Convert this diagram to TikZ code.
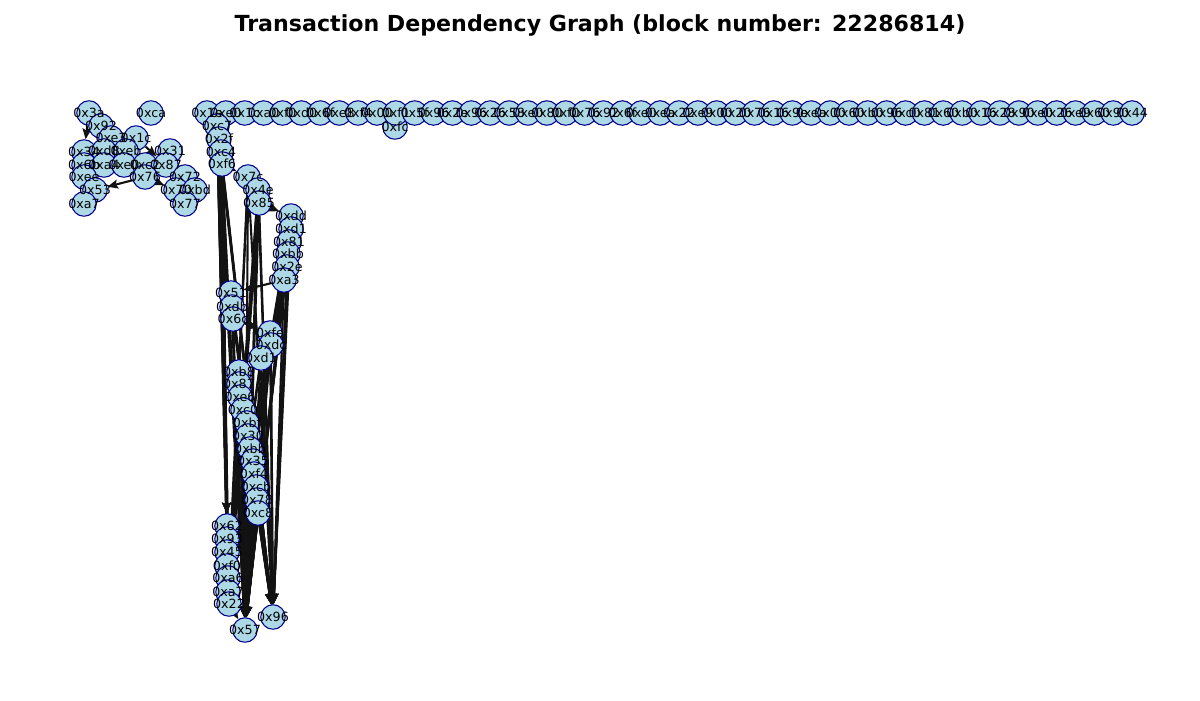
\documentclass[tikz,border=0pt]{standalone}
\usepackage{fontspec}
\setmainfont{DejaVu Sans}
\usetikzlibrary{calc, arrows.meta}

\definecolor{nodefill}{RGB}{173,216,230}
\definecolor{nodeedge}{RGB}{0,0,139}

\pgfdeclarelayer{bg}
\pgfdeclarelayer{fg}
\pgfsetlayers{bg,main,fg}

\tikzset{
	tx/.style = {circle, draw = nodeedge, fill = nodefill, line width = 0.6pt,
		minimum size = 0.49cm, inner sep = 0pt},
	txlabel/.style = {inner sep = 0pt, font = \fontsize{7.2}{7.2}\selectfont},
	dep/.style = {-{Stealth[length = 6pt, width = 5pt, inset = 1pt]}, line width = 1.2pt, black!93},
}

% circle first, its text on the top layer
\newcommand{\txnode}[4]{%
	\node [tx] (#1) at (#2, #3) {};
	\begin{pgfonlayer}{fg}
		\node [txlabel] at (#1) {#4};
	\end{pgfonlayer}%
}

\begin{document}
\begin{tikzpicture}[x = 0.02cm, y = -0.02cm]
		\useasboundingbox (0, 0) rectangle (1200, 700);
		
		\node (title) at (600, 25) {\fontsize{12.6}{13}\selectfont\bfseries Transaction Dependency Graph (block number: 22286814)};
		
		% left cluster
		\foreach \nm/\x/\y/\lb in {n3a/89/113/0x3a, nca/151/113/0xca, n92/101/126/0x92,
				ne3/111/138/0xe3, n1c/136/138/0x1c, n34/84/152/0x34, nd8/104/151/0xd8,
				neb/126/151/0xeb, n31/170/151/0x31, n6b/84/165/0x6b, na4/104/165/0xa4,
				ne0/124/165/0xe0, nc2/145/165/0xc2, n87/166/165/0x87, nee/84/177/0xee,
				n76/145/177/0x76, n72/185/177/0x72, n53/95/190/0x53, n70/176/190/0x70,
				nbd/195/190/0xbd, na7/84/204/0xa7, n77/185/204/0x77}
			{\txnode{\nm}{\x}{\y}{\lb}}
		
		% top row
		\txnode{mfc}{395}{127}{0xfc}
		\foreach \lb [count = \i] in {0x1e, 0xe0, 0x1c, 0xa0, 0xf0, 0xd0, 0x6f, 0xe8, 0xf4, 0x00,
				0xf1, 0x5f, 0x96, 0x2e, 0x96, 0x26, 0x58, 0xe0, 0x80, 0xf0,
				0x76, 0x92, 0x6f, 0xe0, 0xea, 0x22, 0xe9, 0x00, 0x20, 0x76,
				0x16, 0x9e, 0xea, 0x00, 0x60, 0xb0, 0x96, 0xc0, 0x81, 0x60,
				0xb0, 0x16, 0x28, 0x90, 0xe0, 0x26, 0xe9, 0x60, 0x90, 0x44}
			{\txnode{t\i}{{207 + (\i - 1)*18.88}}{113}{\lb}}
		
		% middle column
		\foreach \nm/\x/\y/\lb in {mc7/217/126/0xc7, m2f/219/139/0x2f, mc4/221/152/0xc4,
				mf6/222/164/0xf6, m7c/248/177/0x7c, m4e/258/190/0x4e, m85/259/203/0x85,
				mdd/291/216/0xdd, md1/291/229/0xd1, m81/289/242/0x81, mbb/288/254/0xbb,
				m2e/287/267/0x2e, ma3/284/280/0xa3, m51/231/293/0x51, mdb/232/307/0xdb,
				m6c/233/319/0x6c, mfe/270/333/0xfe, mdc/271/345/0xdc, mdl/261/358/0xd1,
				mb8/239/372/0xb8, m87/239/384/0x87, me6/240/397/0xe6, mc0/243/410/0xc0,
				mbf/247/423/0xbf, m30/248/436/0x30, mbc/250/449/0xbb, m35/253/461/0x35,
				mf4/254/474/0xf4, mcb/256/487/0xcb, m78/257/500/0x78, mc8/258/513/0xc8,
				m62/227/526/0x62, m93/227/539/0x93, m45/227/552/0x45, mf0/227/566/0xf0,
				ma6/228/578/0xa6, ma7/228/592/0xa7, m22/229/604/0x22,
				m96/273/617/0x96, m57/245/630/0x57}
			{\txnode{\nm}{\x}{\y}{\lb}}
		
		\begin{pgfonlayer}{bg}
			\draw [dep] (n3a) -- (n34);
			\draw [dep] (n1c) -- (n87);
			\draw [dep] (n76) -- (n53);
			\draw [dep] (n76) -- (n70);
			
			\draw [dep] (mf6) -- (m7c);
			\draw [dep] (m85) -- (mdd);
			\draw [dep] (ma3) -- (m51);
			\draw [dep] (m6c) -- (mfe);
			
			\foreach \s in {mc7, m2f, mc4, mf6}
				\foreach \t in {m62, m45, ma6, m22, m57, m96}
					\draw [dep] (\s) -- (\t);
			
			\foreach \s in {m7c, m4e, m85, mdd, md1, m81, mbb, m2e, ma3, m51, mdb, m6c,
					mfe, mdc, mdl, mb8, m87, me6, mc0, mbf, m30, mbc, m35, mf4, mcb, m78, mc8}
				\foreach \t in {m57, m96}
					\draw [dep] (\s) -- (\t);
			
			\foreach \s in {m7c, m4e, m85, mdd, m81, m2e, ma3, mfe, mdl}
				\foreach \t in {ma7, m22}
					\draw [dep] (\s) -- (\t);
			
			\draw [dep] (m22) -- (m57);
		\end{pgfonlayer}
	\end{tikzpicture}
\end{document}
